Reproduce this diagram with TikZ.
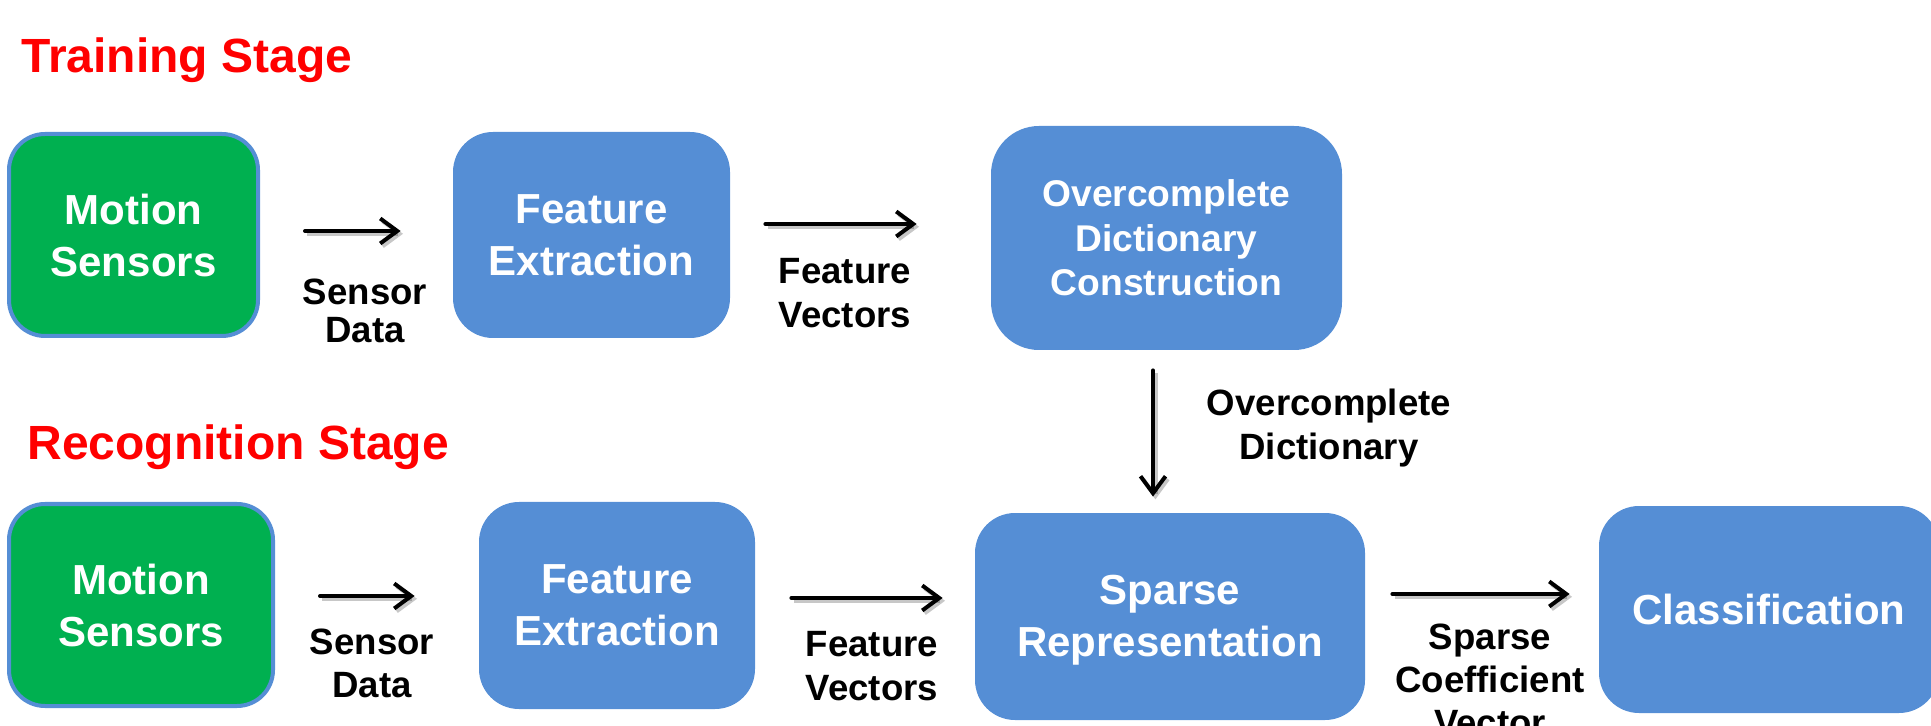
\documentclass[tikz,border=0pt]{standalone}
\usepackage{fontspec}
\setmainfont{Liberation Sans}[Ligatures=CommonOff]
\usetikzlibrary{arrows.meta}
\definecolor{boxblue}{RGB}{85,142,213}
\definecolor{sensgreen}{RGB}{0,176,80}
\definecolor{stagered}{RGB}{255,0,0}

\begin{document}
\begin{tikzpicture}[x=0.5pt,y=-0.5pt,
  blk/.style={rounded corners=20pt, fill=boxblue, text=white, inner sep=0pt,
    font=\bfseries\fontsize{21}{26}\selectfont, align=center},
  sensorbox/.style={blk, fill=sensgreen, draw=boxblue, line width=2pt, rounded corners=18pt},
  lbl/.style={font=\bfseries\fontsize{18.3}{22}\selectfont, align=center, inner sep=0pt},
  stage/.style={text=stagered, font=\bfseries\fontsize{24}{28}\selectfont,
    anchor=base west, inner sep=0pt},
  flow/.style={line width=2pt, line cap=round, line join=round,
    -{Straight Barb[length=8.5pt,width=12.5pt,line width=2pt]},
    preaction={draw=black, opacity=.22, line width=2.6pt,
      transform canvas={shift={(1.2pt,-1.4pt)}}}}
]
\useasboundingbox (0,0) rectangle (1931,726);
\clip (0,0) rectangle (1931,726);

% stage titles
\node[stage] (tstage) at (21,73) {Training Stage};
\node[stage] (rstage) at (27,459) {Recognition Stage};

% training pipeline
\node[sensorbox, minimum width=124.5pt, minimum height=101pt] (ms1) at (133.5,235)
  {Motion\\Sensors};
\node[blk, minimum width=138.5pt, minimum height=103pt] (fe1) at (591.5,235)
  {Feature\\Extraction};
\node[blk, minimum width=175.5pt, minimum height=112pt, rounded corners=24pt,
  font=\bfseries\fontsize{18.6}{22.3}\selectfont] (od) at (1166.5,238)
  {Overcomplete\\Dictionary\\Construction};

% recognition pipeline
\node[sensorbox, minimum width=132pt, minimum height=101pt] (ms2) at (141,605)
  {Motion\\Sensors};
\node[blk, minimum width=138pt, minimum height=103.5pt] (fe2) at (617,605.5)
  {Feature\\Extraction};
\node[blk, minimum width=195pt, minimum height=103.5pt] (sr) at (1170,616.5)
  {Sparse\\Re\smash{p}resentation};
\node[blk, minimum width=170pt, minimum height=103.5pt] (cl) at (1769,609.5)
  {Classification};

% connectors
\draw[flow, shorten <=22.5pt, shorten >=26pt] (ms1.east |- 0,231) -- (fe1.west |- 0,231);
\draw[flow, shorten <=17.5pt, shorten >=37pt] (fe1.east |- 0,224) -- (od.west |- 0,224);
\draw[flow, shorten <=10pt, shorten >=8pt] (od.south -| 1153,0) -- (sr.north -| 1153,0);
\draw[flow, shorten <=22.5pt, shorten >=32pt] (ms2.east |- 0,596) -- (fe2.west |- 0,596);
\draw[flow, shorten <=18pt, shorten >=16pt] (fe2.east |- 0,598) -- (sr.west |- 0,598);
\draw[flow, shorten <=13.5pt, shorten >=14.5pt] (sr.east |- 0,594) -- (cl.west |- 0,594);

% connector labels
\node[lbl, font=\bfseries\fontsize{18.3}{19}\selectfont] (l1) at (365,311) {Sensor\\Data};
\node[lbl] (l2) at (845,293) {Feature\\Vectors};
\node[lbl] (l3) at (1329,428) {Overcomplete\\Dictionary};
\node[lbl, font=\bfseries\fontsize{18.3}{21.5}\selectfont] (l4) at (372,663.5) {Sensor\\Data};
\node[lbl] (l5) at (872,666) {Feature\\Vectors};
\node[lbl, font=\bfseries\fontsize{18.3}{21.5}\selectfont] (l6) at (1490,680)
  {Sparse\\Coefficient\\Vector};
\end{tikzpicture}
\end{document}
